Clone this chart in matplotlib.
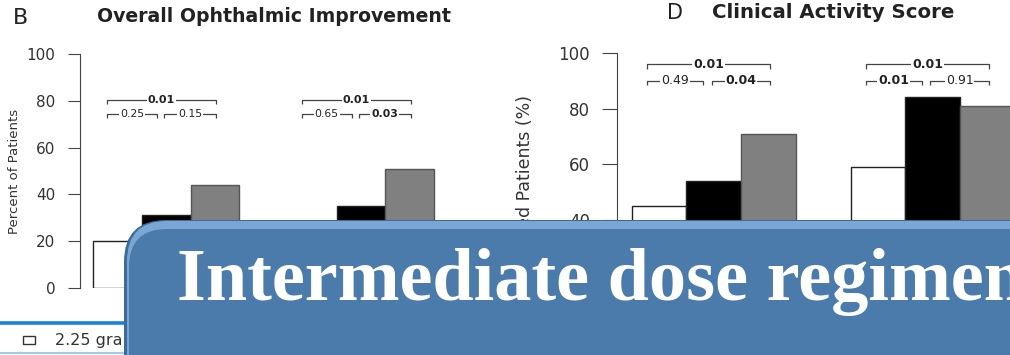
import matplotlib
matplotlib.use("Agg")
import matplotlib.pyplot as plt
from matplotlib.patches import FancyBboxPatch, Rectangle
from matplotlib.transforms import IdentityTransform
from matplotlib.lines import Line2D

W, H = 1010, 355

# --- data ---
doses = ['2.25 g', '4.98 g', '7.47 g']
bar_colors = ['white', 'black', '#808080']

ooi_low = [20, 26]
ooi_mid = [31, 35]
ooi_high = [44, 51]

cas_low = [45, 59]
cas_mid = [54, 84]
cas_high = [71, 81]

# p-values: (overall, low vs mid, mid vs high)
ooi_p = [('0.01', '0.25', '0.15'), ('0.01', '0.65', '0.03')]
cas_p = [('0.01', '0.49', '0.04'), ('0.01', '0.01', '0.91')]

group_starts = [0.27, 4.27]


def px(x, y):
    # pixel (from top-left) -> figure fraction
    return x / W, (H - y) / H


def draw_bars(ax, series):
    for g, start in enumerate(group_starts):
        for i, vals in enumerate(series):
            ax.bar(start + i, vals[g], width=1, align='edge', color=bar_colors[i],
                   edgecolor='#222222' if i < 2 else '#555555', linewidth=1)


def bracket(ax, x0, x1, y, label, fs, tick=1.6):
    ax.plot([x0, x0, x1, x1], [y - tick, y, y, y - tick], color='#444444', lw=0.9,
            clip_on=False, solid_capstyle='butt')
    bold = label in ('0.01', '0.03', '0.04')
    ax.text((x0 + x1) / 2, y, label, ha='center', va='center', fontsize=fs,
            fontweight='bold' if bold else 'normal', color='#222222',
            bbox=dict(facecolor='white', edgecolor='none', pad=0.6))


def style_axis(ax, ticklen, pad, fs):
    ax.set_ylim(0, 100)
    ax.set_xlim(0, 8)
    for s in ['top', 'right', 'bottom']:
        ax.spines[s].set_visible(False)
    ax.spines['left'].set_color('#444444')
    ax.set_xticks([])
    ax.set_yticks([0, 20, 40, 60, 80, 100])
    ax.tick_params(axis='y', length=ticklen, pad=pad, labelsize=fs, color='#444444',
                   labelcolor='#333333')
    ax.patch.set_alpha(0)


fig = plt.figure(figsize=(W / 100, H / 100), dpi=100)

# panel B
axB = fig.add_axes([80 / W, (H - 288) / H, 8 * 48.7 / W, 234 / H])
style_axis(axB, 8.6, 9, 11)
draw_bars(axB, [ooi_low, ooi_mid, ooi_high])
for g, (p_all, p_lm, p_mh) in enumerate(ooi_p):
    off = group_starts[g] - 0.27
    bracket(axB, 0.55 + off, 2.79 + off, 80.3, p_all, 8)
    bracket(axB, 0.55 + off, 1.58 + off, 74.4, p_lm, 7.8)
    bracket(axB, 1.72 + off, 2.79 + off, 74.4, p_mh, 7.8)

# panel D
axD = fig.add_axes([617 / W, (H - 331) / H, 8 * 54.7 / W, 278 / H])
style_axis(axD, 11, 8.5, 12)
draw_bars(axD, [cas_low, cas_mid, cas_high])
for g, (p_all, p_lm, p_mh) in enumerate(cas_p):
    off = group_starts[g] - 0.27
    bracket(axD, 0.55 + off, 2.80 + off, 95.9, p_all, 9, tick=1.5)
    bracket(axD, 0.55 + off, 1.57 + off, 90.1, p_lm, 9, tick=1.5)
    bracket(axD, 1.73 + off, 2.80 + off, 90.1, p_mh, 9, tick=1.5)

# titles and axis labels
fig.text(*px(13, 18), 'B', fontsize=16, ha='left', va='center', color='#222222')
fig.text(*px(97, 17), 'Overall Ophthalmic Improvement', fontsize=13.6, fontweight='bold',
         ha='left', va='center', color='#222222')
fig.text(*px(667, 13), 'D', fontsize=15, ha='left', va='center', color='#222222')
fig.text(*px(712, 12), 'Clinical Activity Score', fontsize=14.2, fontweight='bold',
         ha='left', va='center', color='#222222')
fig.text(*px(15, 171), 'Percent of Patients', rotation=90, fontsize=9.5,
         ha='center', va='center', color='#333333')
fig.text(*px(525, 192), 'Improved Patients (%)', rotation=90, fontsize=12.5,
         ha='center', va='center', color='#333333')

# slide footer: legend strip
fig.add_artist(Line2D([0, 140 / W], [(H - 323) / H] * 2, color='#1a82d6', lw=2.6))
fig.add_artist(Line2D([0, 140 / W], [(H - 353) / H] * 2, color='#8cc4ef', lw=1.2))
fig.add_artist(Rectangle(px(23, 344), 12 / W, 8 / H, facecolor='white',
                         edgecolor='#333333', lw=1, transform=fig.transFigure))
fig.text(*px(55, 341), '2.25 grams', fontsize=11.5, ha='left', va='center', color='#333333')

# overlay callout box
ident = IdentityTransform()
fig.add_artist(FancyBboxPatch((124, -60), 1000, H - 220 + 60,
                              boxstyle='round,pad=0,rounding_size=42',
                              facecolor='#3d6a98', edgecolor='none',
                              transform=ident, zorder=10))
fig.add_artist(FancyBboxPatch((127, -60), 1000, H - 221 + 60,
                              boxstyle='round,pad=0,rounding_size=40',
                              facecolor='#7aa6d4', edgecolor='none',
                              transform=ident, zorder=10.5))
fig.add_artist(FancyBboxPatch((129, -60), 1000, H - 229 + 60,
                              boxstyle='round,pad=0,rounding_size=38',
                              facecolor='#4a7bab', edgecolor='none',
                              transform=ident, zorder=11))
fig.text(*px(177, 300), 'Intermediate dose regimen', fontsize=53.5, fontweight='bold',
         family=['Liberation Serif', 'DejaVu Serif'], color='white',
         ha='left', va='baseline', zorder=12)

fig.savefig('out.png', dpi=100)
